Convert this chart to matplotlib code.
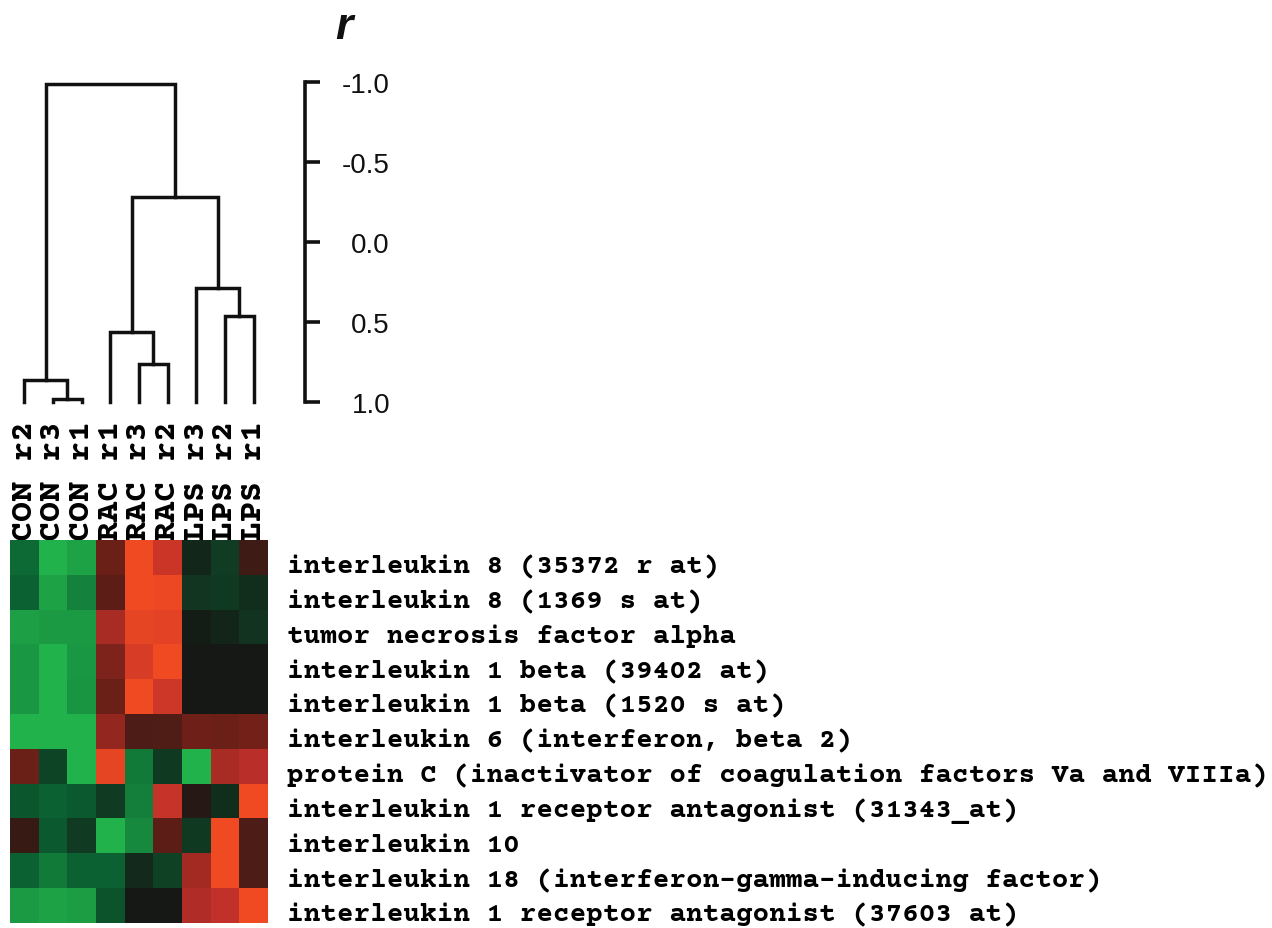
import matplotlib
matplotlib.use("Agg")
import matplotlib.pyplot as plt
import matplotlib.transforms as mtransforms
from matplotlib.colors import LinearSegmentedColormap
import numpy as np

# ---------------- data ----------------
col_labels = ["CON r2", "CON r3", "CON r1", "RAC r1", "RAC r3", "RAC r2",
              "LPS r3", "LPS r2", "LPS r1"]
row_labels = [
    "interleukin 8 (35372 r at)",
    "interleukin 8 (1369 s at)",
    "tumor necrosis factor alpha",
    "interleukin 1 beta (39402 at)",
    "interleukin 1 beta (1520 s at)",
    "interleukin 6 (interferon, beta 2)",
    "protein C (inactivator of coagulation factors Va and VIIIa)",
    "interleukin 1 receptor antagonist (31343_at)",
    "interleukin 10",
    "interleukin 18 (interferon-gamma-inducing factor)",
    "interleukin 1 receptor antagonist (37603 at)",
]
expr = [
    [-0.55, -1.00, -0.90, 0.40, 1.00, 0.80, -0.10, -0.25, 0.20],
    [-0.50, -0.90, -0.70, 0.33, 1.00, 0.98, -0.20, -0.22, -0.15],
    [-0.88, -0.85, -0.85, 0.65, 0.95, 0.93, -0.03, -0.08, -0.18],
    [-0.83, -1.00, -0.83, 0.48, 0.87, 1.00, 0.00, 0.00, 0.00],
    [-0.83, -1.00, -0.82, 0.40, 1.00, 0.82, 0.00, 0.00, 0.00],
    [-1.00, -1.00, -1.00, 0.57, 0.27, 0.28, 0.42, 0.40, 0.43],
    [0.40, -0.30, -1.00, 0.95, -0.65, -0.22, -1.00, 0.65, 0.72],
    [-0.42, -0.50, -0.45, -0.24, -0.68, 0.78, 0.08, -0.15, 1.00],
    [0.17, -0.45, -0.24, -1.00, -0.75, 0.33, -0.22, 1.00, 0.27],
    [-0.50, -0.65, -0.50, -0.50, -0.12, -0.28, 0.63, 1.00, 0.27],
    [-0.85, -0.90, -0.87, -0.40, 0.00, 0.00, 0.68, 0.75, 1.00],
]
# dendrogram merges (leaf ids 0..8 in column order, new nodes 9..)
merge_left = [1, 0, 4, 3, 7, 6, 12, 10]
merge_right = [2, 9, 5, 11, 8, 13, 14, 15]
merge_height = [0.98, 0.86, 0.76, 0.56, 0.46, 0.29, -0.28, -0.99]
leaf_height = 1.0
scale_ticks = [-1.0, -0.5, 0.0, 0.5, 1.0]
scale_ticklabels = ["-1.0", "-0.5", "0.0", "0.5", "1.0"]

# ---------------- figure ----------------
W, H = 1272, 929
fig = plt.figure(figsize=(W / 100, H / 100), dpi=100)
fig.patch.set_facecolor("white")


def px_axes(x0, y0, x1, y1):
    return fig.add_axes([x0 / W, 1 - y1 / H, (x1 - x0) / W, (y1 - y0) / H])


mono = ["Courier Prime", "FreeMono", "DejaVu Sans Mono"]
ink = "#111111"

# dendrogram axes
axd = px_axes(10, 83, 268, 403)
n = len(col_labels)
xs = {i: float(i) for i in range(n)}
hs = {i: leaf_height for i in range(n)}
for k, (l, r, h) in enumerate(zip(merge_left, merge_right, merge_height)):
    node = n + k
    axd.plot([xs[l], xs[l], xs[r], xs[r]], [hs[l], h, h, hs[r]],
             color=ink, lw=2.5, solid_capstyle="projecting",
             solid_joinstyle="miter", clip_on=False)
    xs[node] = (xs[l] + xs[r]) / 2
    hs[node] = h
axd.set_xlim(-0.5, n - 0.5)
axd.set_ylim(1.0, -1.0)
for s in axd.spines.values():
    s.set_visible(False)
axd.set_yticks([])
axd.set_xticks(range(n))
axd.set_xticklabels(col_labels, rotation=90, fontfamily=mono,
                    fontweight="bold", fontsize=24, va="top", color="black")
axd.tick_params(axis="x", length=0, pad=13)
axd.patch.set_visible(False)

# heatmap axes (drawn after, covers label ends)
cmap = LinearSegmentedColormap.from_list(
    "gbr",
    [(0.0, "#22b24b"), (0.25, "#0b6232"), (0.5, "#151815"),
     (0.7, "#6a1f17"), (0.875, "#c0302a"), (1.0, "#f04a23")])
axh = px_axes(10, 541, 268, 924)
axh.imshow(np.array(expr), cmap=cmap, vmin=-1, vmax=1, aspect="auto",
           interpolation="nearest")
for s in axh.spines.values():
    s.set_visible(False)
axh.set_xticks([])
axh.set_yticks(range(len(row_labels)))
axh.set_yticklabels(row_labels, fontfamily=mono, fontweight="bold",
                    fontsize=20, color="black")
axh.tick_params(axis="y", left=False, right=False, labelleft=False,
                labelright=True, length=0, pad=14)
shift = mtransforms.ScaledTranslation(0, -6 / 100, fig.dpi_scale_trans)
for lab in axh.get_yticklabels():
    lab.set_transform(lab.get_transform() + shift)

# scale axes
axs = px_axes(305, 83, 390, 403)
axs.set_ylim(1.0, -1.0)
axs.set_xlim(0, 1)
for name, s in axs.spines.items():
    s.set_visible(name == "left")
axs.spines["left"].set_linewidth(2.6)
axs.spines["left"].set_color(ink)
axs.spines["left"].set_capstyle("projecting")
axs.set_xticks([])
axs.set_yticks(scale_ticks)
axs.set_yticklabels(scale_ticklabels, fontfamily="Liberation Sans",
                    fontsize=20, color="#111111")
axs.tick_params(axis="y", direction="in", length=11, width=2.6, color=ink,
                labelleft=False, labelright=True, right=False, pad=0)
for lab in axs.get_yticklabels():
    lab.set_horizontalalignment("right")
axs.patch.set_visible(False)

fig.text(344 / W, 1 - 39 / H, "r", fontfamily="Liberation Sans",
         fontweight="bold", fontstyle="italic", fontsize=32,
         ha="center", va="baseline", color=ink)

fig.savefig("out.png", dpi=100, facecolor="white")
